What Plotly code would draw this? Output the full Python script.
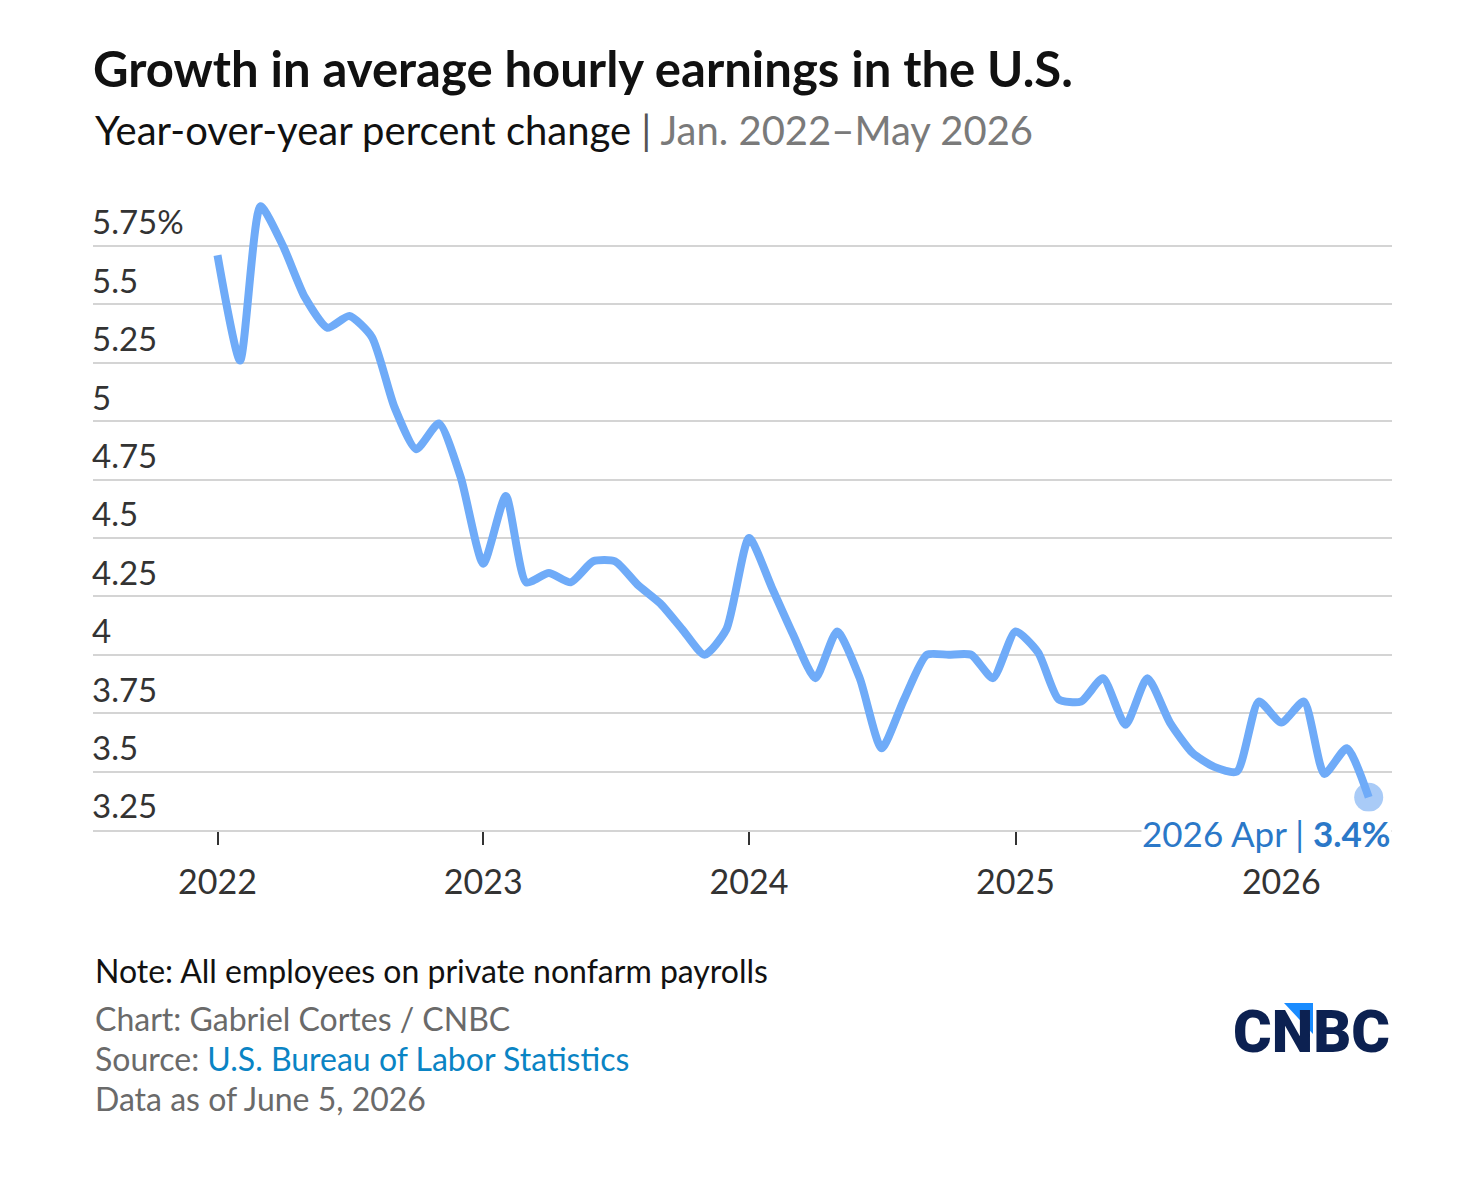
import pandas as pd
import plotly.graph_objects as go

# ---------------- data ----------------
months = pd.date_range("2022-01-01", "2026-05-01", freq="MS")
growth = [5.71, 5.26, 5.92, 5.75, 5.53, 5.40, 5.45, 5.36, 5.06, 4.88, 4.99, 4.76,
          4.39, 4.68, 4.31, 4.35, 4.31, 4.40, 4.40, 4.30, 4.22, 4.11, 4.00, 4.11,
          4.50, 4.29, 4.09, 3.90, 4.10, 3.90, 3.60, 3.81, 4.00, 4.00, 4.00, 3.90,
          4.10, 4.01, 3.81, 3.80, 3.90, 3.70, 3.90, 3.71, 3.58, 3.52, 3.50, 3.80,
          3.71, 3.80, 3.49, 3.60, 3.39]
y_ticks = [3.25, 3.5, 3.75, 4, 4.25, 4.5, 4.75, 5, 5.25, 5.5, 5.75]
y_tick_labels = ["3.25", "3.5", "3.75", "4", "4.25", "4.5", "4.75", "5", "5.25", "5.5", "5.75%"]
x_ticks = ["2022-01-01", "2023-01-01", "2024-01-01", "2025-01-01", "2026-01-01"]
x_tick_labels = ["2022", "2023", "2024", "2025", "2026"]
last_label = "2026 Apr | <b>3.4%</b>"

title = "<b>Growth in average hourly earnings in the U.S.</b>"
subtitle = ("Year-over-year percent change <span style='color:#555'>|</span>"
            "<span style='color:#7a7a7a'> Jan. 2022–May 2026</span>")
note = "Note: All employees on private nonfarm payrolls"
credit = "Chart: Gabriel Cortes / CNBC"
source = "Source: <span style='color:#0a84c4'>U.S. Bureau of Labor Statistics</span>"
asof = "Data as of June 5, 2026"

# ---------------- layout geometry ----------------
W, H = 1468, 1180
L, R, T, B = 93, 76, 192, 350
PH = H - T - B
PW = W - L - R


def px(x):
    return (x - L) / PW


def py(y):
    return (H - B - y) / PH


FONT = "Lato"
LINE = "#6fabf8"

fig = go.Figure()

fig.add_trace(go.Scatter(
    x=[months[-1]], y=[growth[-1]], mode="markers",
    marker=dict(size=29, color="#a9cbf7", line=dict(width=0)),
    hoverinfo="skip", showlegend=False,
))
fig.add_trace(go.Scatter(
    x=months, y=growth, mode="lines",
    line=dict(color=LINE, width=8, shape="spline", smoothing=0.6),
    showlegend=False,
))

fig.update_layout(
    width=W, height=H,
    margin=dict(l=L, r=R, t=T, b=B),
    paper_bgcolor="white", plot_bgcolor="white",
    font=dict(family=FONT, color="#333"),
    title=dict(text=title, x=L / W, xanchor="left", xref="container",
               y=1 - 70 / H, yanchor="middle", yref="container",
               font=dict(family=FONT, size=49, color="#111")),
    showlegend=False,
)

fig.update_xaxes(
    type="date",
    range=["2021-07-14", "2026-06-02"],
    tickvals=x_ticks, ticktext=x_tick_labels,
    showgrid=False, zeroline=False,
    showline=True, linecolor="#d4d4d4", linewidth=2,
    ticks="outside", ticklen=13, tickwidth=2, tickcolor="#333",
    tickfont=dict(family=FONT, size=34, color="#333"),
    ticklabelstandoff=8,
)
fig.update_yaxes(
    range=[3.25, 5.981],
    tickvals=y_ticks, ticktext=y_tick_labels,
    showgrid=True, gridcolor="#d4d4d4", gridwidth=2,
    zeroline=False, showline=False, ticks="",
    ticklabelposition="inside top",
    ticklabelstandoff=-4,
    tickfont=dict(family=FONT, size=33, color="#333"),
)

annos = [
    dict(text=subtitle, x=px(93), y=py(130), color="#111", size=40),
    dict(text=note, x=px(93), y=py(970), color="#111", size=32),
    dict(text=credit, x=px(93), y=py(1018), color="#6a6a6a", size=32),
    dict(text=source, x=px(93), y=py(1058), color="#6a6a6a", size=32),
    dict(text=asof, x=px(93), y=py(1098), color="#6a6a6a", size=32),
]
for a in annos:
    fig.add_annotation(text=a["text"], xref="paper", yref="paper", x=a["x"], y=a["y"],
                       xanchor="left", yanchor="middle", showarrow=False,
                       font=dict(family=FONT, size=a["size"], color=a["color"]))

# end-point label
fig.add_annotation(text=last_label, xref="paper", yref="paper", x=1.0, y=py(833),
                   xanchor="right", yanchor="middle", showarrow=False,
                   bgcolor="white", borderpad=0,
                   font=dict(family=FONT, size=35, color="#2b78c8"))

# CNBC logo
fig.add_annotation(text="CNBC", xref="paper", yref="paper", x=1.0, y=py(1031),
                   xanchor="right", yanchor="middle", showarrow=False,
                   font=dict(family="Roboto", size=59, weight=900, color="#0c2151"))
fig.add_shape(type="path", xref="paper", yref="paper",
              path=f"M {px(1284)} {py(1003)} L {px(1313)} {py(1003)} L {px(1313)} {py(1034)} Z",
              fillcolor="#1a8cff", line=dict(width=0))

fig.write_html("out.html")
